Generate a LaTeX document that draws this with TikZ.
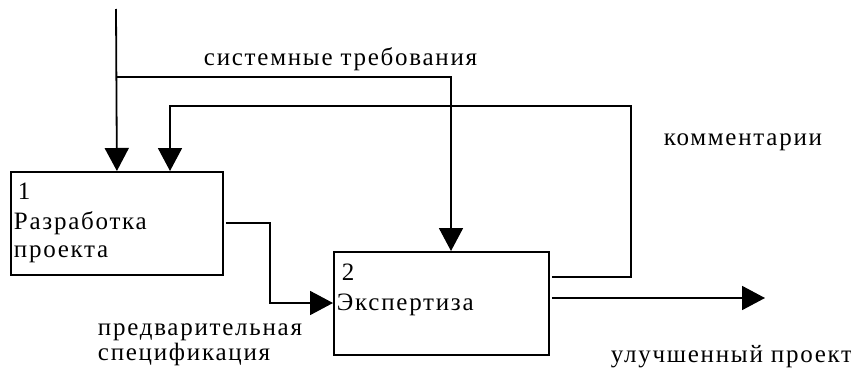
\documentclass[tikz,border=0pt]{standalone}
\usepackage{fontspec}
\setmainfont{Liberation Serif}[LetterSpace=7]
\usetikzlibrary{arrows.meta}
\begin{document}
\begin{tikzpicture}[x=1pt,y=-1pt, line width=1.8pt,
  box/.style={draw, line width=1.8pt, inner sep=0pt, anchor=north west},
  lbl/.style={anchor=base west, inner sep=0pt, font=\fontsize{25}{30}\selectfont},
  arr/.style={-{Triangle[length=23pt,width=24pt]}},
  conn/.style={line width=1.8pt}]
\useasboundingbox (0,0) rectangle (851,372);
% boxes
\node[box, minimum width=212pt, minimum height=103pt] (b1) at (10,171) {};
\node[box, minimum width=215pt, minimum height=103pt] (b2) at (333,251) {};
% box texts
\node[lbl] (n1) at (17,199) {1};
\node[lbl] (t1a) at (13,229) {Разработка};
\node[lbl] (t1b) at (13,257) {проекта};
\node[lbl] (n2) at (341,280) {2};
\node[lbl] (t2) at (336,310) {Экспертиза};
% labels
\node[lbl] (lsys) at (203,65) {системные требования};
\node[lbl] (lcom) at (663,145) {комментарии};
\node[lbl] (lpre1) at (97,335) {предварительная};
\node[lbl] (lpre2) at (97,360) {спецификация};
\node[lbl] (lout) at (610,362) {улучшенный проект};
% coordinates
\coordinate (src) at (116,9);
\coordinate (j1) at (116,77);
\coordinate (c2in) at (451,251);
\coordinate (c1in) at (170,171);
\coordinate (outend) at (765,298);
% connectors
\draw[conn,arr] (src) -- (b1.north);
\draw[conn,arr] (j1) -| (c2in);
\draw[conn,arr] ([xshift=2pt]b2.east |- 0,277) -- (631,277) -- (631,106) -| (c1in);
\draw[conn,arr] ([xshift=2pt]b1.east |- 0,223) -- (270,223) |- (b2.west |- 0,303);
\draw[conn,arr] ([xshift=2pt]b2.east |- 0,298) -- (outend);
\end{tikzpicture}
\end{document}
